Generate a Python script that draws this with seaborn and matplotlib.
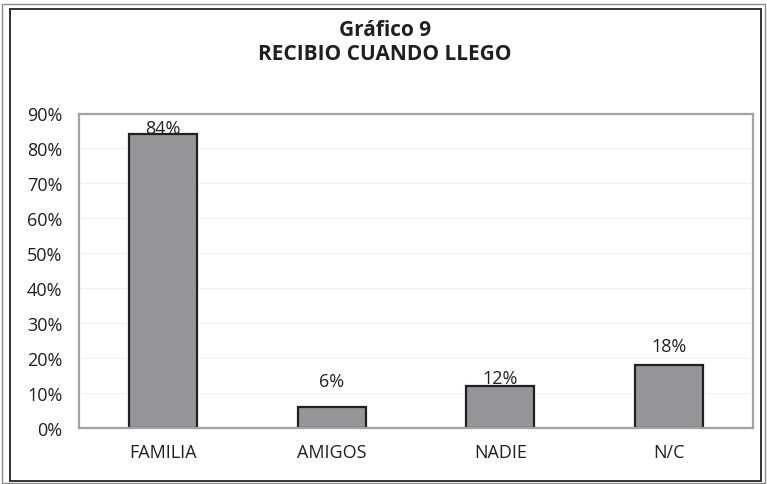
import pandas as pd
import matplotlib.pyplot as plt
import seaborn as sns
from matplotlib.patches import Rectangle

categories = ['FAMILIA', 'AMIGOS', 'NADIE', 'N/C']
values = [84, 6, 12, 18]
y_ticks = [0, 10, 20, 30, 40, 50, 60, 70, 80, 90]
title_lines = ['Gráfico 9', 'RECIBIO CUANDO LLEGO']

# label gap above each bar (points), the original labels float irregularly
label_gap = [-2, 12, -1, 7]

sns.set_theme(style="white")
plt.rcParams['font.family'] = ['Open Sans', 'DejaVu Sans']
text_color = '#231f20'

df = pd.DataFrame({'cat': categories, 'val': values})

fig = plt.figure(figsize=(7.67, 4.85), dpi=100)
ax = fig.add_axes([79 / 767, 56 / 485, 674 / 767, 314.5 / 485])

sns.barplot(data=df, x='cat', y='val', color='#939598', width=0.405,
            edgecolor=text_color, linewidth=1.6, saturation=1, ax=ax)

ax.set_ylim(0, 90)
ax.set_yticks(y_ticks)
ax.set_yticklabels([f'{t}%' for t in y_ticks])
ax.set_xlabel('')
ax.set_ylabel('')
ax.tick_params(axis='y', length=0, pad=12, labelsize=13, labelcolor=text_color)
ax.tick_params(axis='x', length=0, pad=11, labelsize=13, labelcolor=text_color)
ax.yaxis.grid(True, color='#f2f2f2', linewidth=0.8)
ax.set_axisbelow(True)
for s in ax.spines.values():
    s.set_color('#a3a3a3')
    s.set_linewidth(1.6)

for i, (v, g) in enumerate(zip(values, label_gap)):
    ax.annotate(f'{v}%', (i, v), xytext=(0, g), textcoords='offset points',
                ha='center', va='bottom', fontsize=13, color=text_color)

fig.text(0.502, 1 - 30 / 485, title_lines[0], ha='center', va='center',
         fontsize=15, fontweight='bold', color=text_color)
fig.text(0.502, 1 - 55 / 485, title_lines[1], ha='center', va='center',
         fontsize=15, fontweight='bold', color=text_color)

# double frame around the figure
W, H = 767, 485
fig.patches.append(Rectangle((1.5 / W, 1.5 / H), 763 / W, 479 / H,
                             transform=fig.transFigure, fill=False,
                             edgecolor='#8a8a8a', linewidth=1.0))
fig.patches.append(Rectangle((9.5 / W, 3.5 / H), 751 / W, 471.5 / H,
                             transform=fig.transFigure, fill=False,
                             edgecolor='#333333', linewidth=1.4))

plt.savefig('out.png', dpi=100)
